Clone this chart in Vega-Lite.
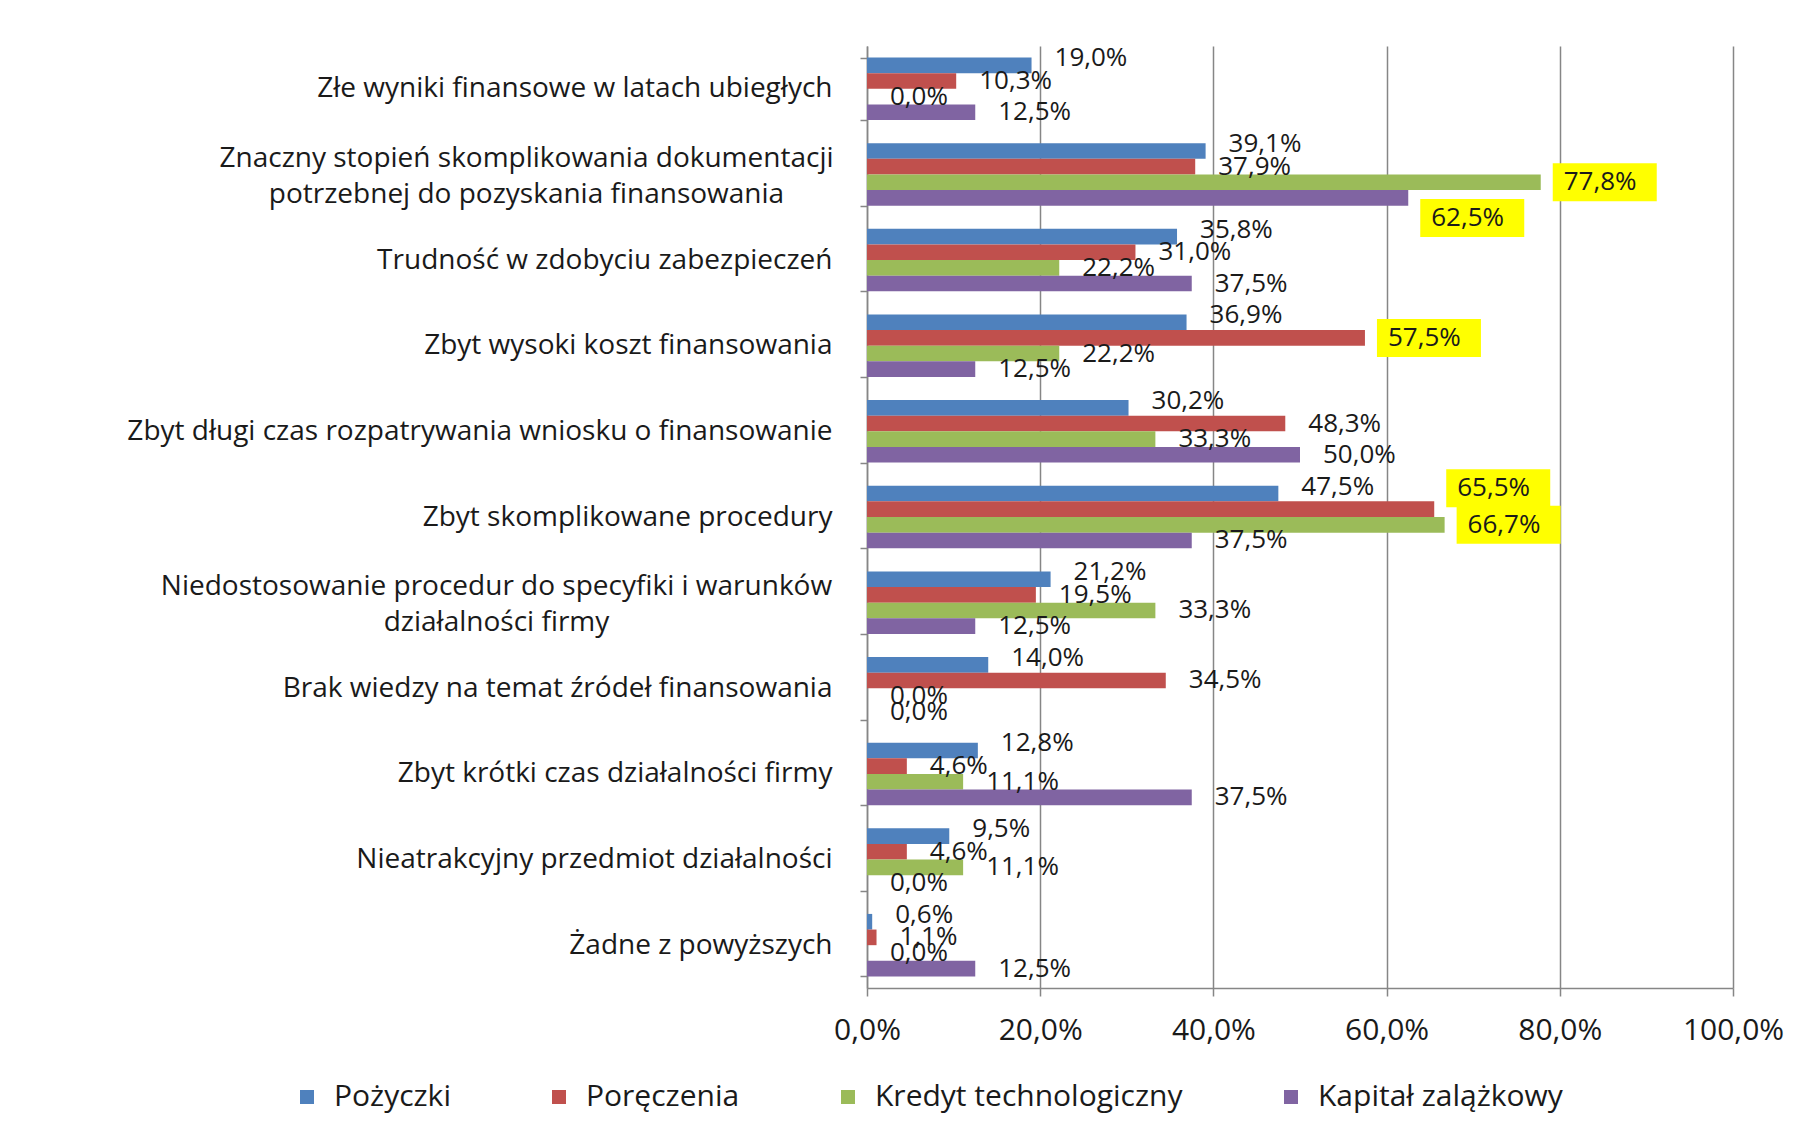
{
  "$schema": "https://vega.github.io/schema/vega-lite/v6.json",
  "width": 866,
  "height": 942,
  "autosize": {"type": "none"},
  "padding": {"left": 867, "top": 46, "right": 85, "bottom": 151},
  "background": "white",
  "config": {
    "locale": {"number": {"decimal": ",", "thousands": " ", "grouping": [3], "currency": ["", " zł"]}},
    "view": {"stroke": null},
    "font": "Open Sans",
    "text": {"font": "Open Sans"}
  },
  "data": {
    "values": [
      {"category": "Złe wyniki finansowe w latach ubiegłych", "series": "Pożyczki", "value": 0.190},
      {"category": "Złe wyniki finansowe w latach ubiegłych", "series": "Poręczenia", "value": 0.103},
      {"category": "Złe wyniki finansowe w latach ubiegłych", "series": "Kredyt technologiczny", "value": 0.0},
      {"category": "Złe wyniki finansowe w latach ubiegłych", "series": "Kapitał zalążkowy", "value": 0.125},
      {"category": "Znaczny stopień skomplikowania dokumentacji potrzebnej do pozyskania finansowania", "series": "Pożyczki", "value": 0.391},
      {"category": "Znaczny stopień skomplikowania dokumentacji potrzebnej do pozyskania finansowania", "series": "Poręczenia", "value": 0.379},
      {"category": "Znaczny stopień skomplikowania dokumentacji potrzebnej do pozyskania finansowania", "series": "Kredyt technologiczny", "value": 0.778},
      {"category": "Znaczny stopień skomplikowania dokumentacji potrzebnej do pozyskania finansowania", "series": "Kapitał zalążkowy", "value": 0.625},
      {"category": "Trudność w zdobyciu zabezpieczeń", "series": "Pożyczki", "value": 0.358},
      {"category": "Trudność w zdobyciu zabezpieczeń", "series": "Poręczenia", "value": 0.310},
      {"category": "Trudność w zdobyciu zabezpieczeń", "series": "Kredyt technologiczny", "value": 0.222},
      {"category": "Trudność w zdobyciu zabezpieczeń", "series": "Kapitał zalążkowy", "value": 0.375},
      {"category": "Zbyt wysoki koszt finansowania", "series": "Pożyczki", "value": 0.369},
      {"category": "Zbyt wysoki koszt finansowania", "series": "Poręczenia", "value": 0.575},
      {"category": "Zbyt wysoki koszt finansowania", "series": "Kredyt technologiczny", "value": 0.222},
      {"category": "Zbyt wysoki koszt finansowania", "series": "Kapitał zalążkowy", "value": 0.125},
      {"category": "Zbyt długi czas rozpatrywania wniosku o finansowanie", "series": "Pożyczki", "value": 0.302},
      {"category": "Zbyt długi czas rozpatrywania wniosku o finansowanie", "series": "Poręczenia", "value": 0.483},
      {"category": "Zbyt długi czas rozpatrywania wniosku o finansowanie", "series": "Kredyt technologiczny", "value": 0.333},
      {"category": "Zbyt długi czas rozpatrywania wniosku o finansowanie", "series": "Kapitał zalążkowy", "value": 0.500},
      {"category": "Zbyt skomplikowane procedury", "series": "Pożyczki", "value": 0.475},
      {"category": "Zbyt skomplikowane procedury", "series": "Poręczenia", "value": 0.655},
      {"category": "Zbyt skomplikowane procedury", "series": "Kredyt technologiczny", "value": 0.667},
      {"category": "Zbyt skomplikowane procedury", "series": "Kapitał zalążkowy", "value": 0.375},
      {"category": "Niedostosowanie procedur do specyfiki i warunków działalności firmy", "series": "Pożyczki", "value": 0.212},
      {"category": "Niedostosowanie procedur do specyfiki i warunków działalności firmy", "series": "Poręczenia", "value": 0.195},
      {"category": "Niedostosowanie procedur do specyfiki i warunków działalności firmy", "series": "Kredyt technologiczny", "value": 0.333},
      {"category": "Niedostosowanie procedur do specyfiki i warunków działalności firmy", "series": "Kapitał zalążkowy", "value": 0.125},
      {"category": "Brak wiedzy na temat  źródeł finansowania", "series": "Pożyczki", "value": 0.140},
      {"category": "Brak wiedzy na temat  źródeł finansowania", "series": "Poręczenia", "value": 0.345},
      {"category": "Brak wiedzy na temat  źródeł finansowania", "series": "Kredyt technologiczny", "value": 0.0},
      {"category": "Brak wiedzy na temat  źródeł finansowania", "series": "Kapitał zalążkowy", "value": 0.0},
      {"category": "Zbyt krótki czas działalności firmy", "series": "Pożyczki", "value": 0.128},
      {"category": "Zbyt krótki czas działalności firmy", "series": "Poręczenia", "value": 0.046},
      {"category": "Zbyt krótki czas działalności firmy", "series": "Kredyt technologiczny", "value": 0.111},
      {"category": "Zbyt krótki czas działalności firmy", "series": "Kapitał zalążkowy", "value": 0.375},
      {"category": "Nieatrakcyjny  przedmiot działalności", "series": "Pożyczki", "value": 0.095},
      {"category": "Nieatrakcyjny  przedmiot działalności", "series": "Poręczenia", "value": 0.046},
      {"category": "Nieatrakcyjny  przedmiot działalności", "series": "Kredyt technologiczny", "value": 0.111},
      {"category": "Nieatrakcyjny  przedmiot działalności", "series": "Kapitał zalążkowy", "value": 0.0},
      {"category": "Żadne z powyższych", "series": "Pożyczki", "value": 0.006},
      {"category": "Żadne z powyższych", "series": "Poręczenia", "value": 0.011},
      {"category": "Żadne z powyższych", "series": "Kredyt technologiczny", "value": 0.0},
      {"category": "Żadne z powyższych", "series": "Kapitał zalążkowy", "value": 0.125}
    ]
  },
  "encoding": {
    "y": {
      "field": "category",
      "type": "nominal",
      "sort": null,
      "scale": {"paddingInner": 0.27, "paddingOuter": 0.135},
      "axis": {
        "title": null,
        "tickBand": "extent",
        "grid": false,
        "domainColor": "#868686",
        "domainWidth": 1.5,
        "tickColor": "#868686",
        "tickWidth": 1.5,
        "tickSize": 7,
        "labelPadding": {
          "condition": [
            {"test": "datum.value == 'Znaczny stopień skomplikowania dokumentacji potrzebnej do pozyskania finansowania'", "value": 334},
            {"test": "datum.value == 'Niedostosowanie procedur do specyfiki i warunków działalności firmy'", "value": 364}
          ],
          "value": 28
        },
        "labelAlign": {
          "condition": {"test": "datum.value == 'Znaczny stopień skomplikowania dokumentacji potrzebnej do pozyskania finansowania' || datum.value == 'Niedostosowanie procedur do specyfiki i warunków działalności firmy'", "value": "center"},
          "value": "right"
        },
        "labelOffset": {
          "condition": {"test": "datum.value == 'Znaczny stopień skomplikowania dokumentacji potrzebnej do pozyskania finansowania' || datum.value == 'Niedostosowanie procedur do specyfiki i warunków działalności firmy'", "value": -16},
          "value": 0
        },
        "labelFont": "Open Sans",
        "labelFontSize": 28,
        "labelColor": "#1a1a1a",
        "labelLimit": 0,
        "labelLineHeight": 36,
        "labelExpr": "datum.label == 'Znaczny stopień skomplikowania dokumentacji potrzebnej do pozyskania finansowania' ? ['Znaczny stopień skomplikowania dokumentacji', 'potrzebnej do pozyskania finansowania'] : datum.label == 'Niedostosowanie procedur do specyfiki i warunków działalności firmy' ? ['Niedostosowanie procedur do specyfiki i warunków', 'działalności firmy'] : datum.label"
      }
    },
    "x": {
      "field": "value",
      "type": "quantitative",
      "scale": {"domain": [0, 1], "nice": false},
      "axis": {
        "title": null,
        "values": [0, 0.2, 0.4, 0.6, 0.8, 1],
        "format": ".1%",
        "grid": true,
        "gridColor": "#868686",
        "gridWidth": 1.5,
        "domainColor": "#868686",
        "domainWidth": 1.5,
        "tickColor": "#868686",
        "tickWidth": 1.5,
        "tickSize": 8,
        "labelPadding": 19,
        "labelFont": "Open Sans",
        "labelFontSize": 30,
        "labelColor": "#1a1a1a",
        "labelFlush": false
      }
    },
    "yOffset": {
      "field": "series",
      "type": "nominal",
      "sort": ["Pożyczki", "Poręczenia", "Kredyt technologiczny", "Kapitał zalążkowy"],
      "scale": {"paddingInner": 0, "paddingOuter": 0}
    }
  },
  "layer": [
    {
      "mark": {"type": "bar"},
      "encoding": {
        "color": {
          "field": "series",
          "type": "nominal",
          "scale": {
            "domain": ["Pożyczki", "Poręczenia", "Kredyt technologiczny", "Kapitał zalążkowy"],
            "range": ["#4F81BD", "#C0504D", "#9BBB59", "#8064A2"]
          },
          "legend": {
            "orient": "none",
            "legendX": -575,
            "legendY": 1036,
            "direction": "horizontal",
            "title": null,
            "symbolType": "square",
            "symbolSize": 196,
            "symbolStrokeWidth": 0,
            "labelFont": "Open Sans",
            "labelFontSize": 30,
            "labelColor": "#1a1a1a",
            "labelOffset": 12,
            "columnPadding": 93,
            "labelLimit": 0
          }
        }
      }
    },
    {
      "transform": [{"filter": "datum.value > 0.55"}],
      "mark": {"type": "point", "filled": true, "color": "#FFFF00", "opacity": 1, "strokeWidth": 0, "size": 10000},
      "encoding": {
        "shape": {
          "condition": [
            {"test": "datum.value == 0.625", "value": "M0.24,0.02H2.32V0.78H0.24Z"},
            {"test": "datum.value == 0.655", "value": "M0.24,-0.8H2.32V-0.04H0.24Z"}
          ],
          "value": "M0.24,-0.38H2.32V0.38H0.24Z"
        }
      }
    },
    {
      "transform": [{"filter": "datum.series != 'Pożyczki' && datum.value != 0.625 && datum.value != 0.655"}],
      "mark": {"type": "text", "align": "left", "baseline": "middle", "dx": 23, "font": "Open Sans", "fontSize": 26, "color": "#1a1a1a"},
      "encoding": {"text": {"field": "value", "type": "quantitative", "format": ".1%"}}
    },
    {
      "transform": [{"filter": "datum.series == 'Pożyczki'"}],
      "mark": {"type": "text", "align": "left", "baseline": "middle", "dx": 23, "dy": -7, "font": "Open Sans", "fontSize": 26, "color": "#1a1a1a"},
      "encoding": {"text": {"field": "value", "type": "quantitative", "format": ".1%"}}
    },
    {
      "transform": [{"filter": "datum.value == 0.625"}],
      "mark": {"type": "text", "align": "left", "baseline": "middle", "dx": 23, "dy": 20, "font": "Open Sans", "fontSize": 26, "color": "#1a1a1a"},
      "encoding": {"text": {"field": "value", "type": "quantitative", "format": ".1%"}}
    },
    {
      "transform": [{"filter": "datum.value == 0.655"}],
      "mark": {"type": "text", "align": "left", "baseline": "middle", "dx": 23, "dy": -21, "font": "Open Sans", "fontSize": 26, "color": "#1a1a1a"},
      "encoding": {"text": {"field": "value", "type": "quantitative", "format": ".1%"}}
    }
  ]
}
